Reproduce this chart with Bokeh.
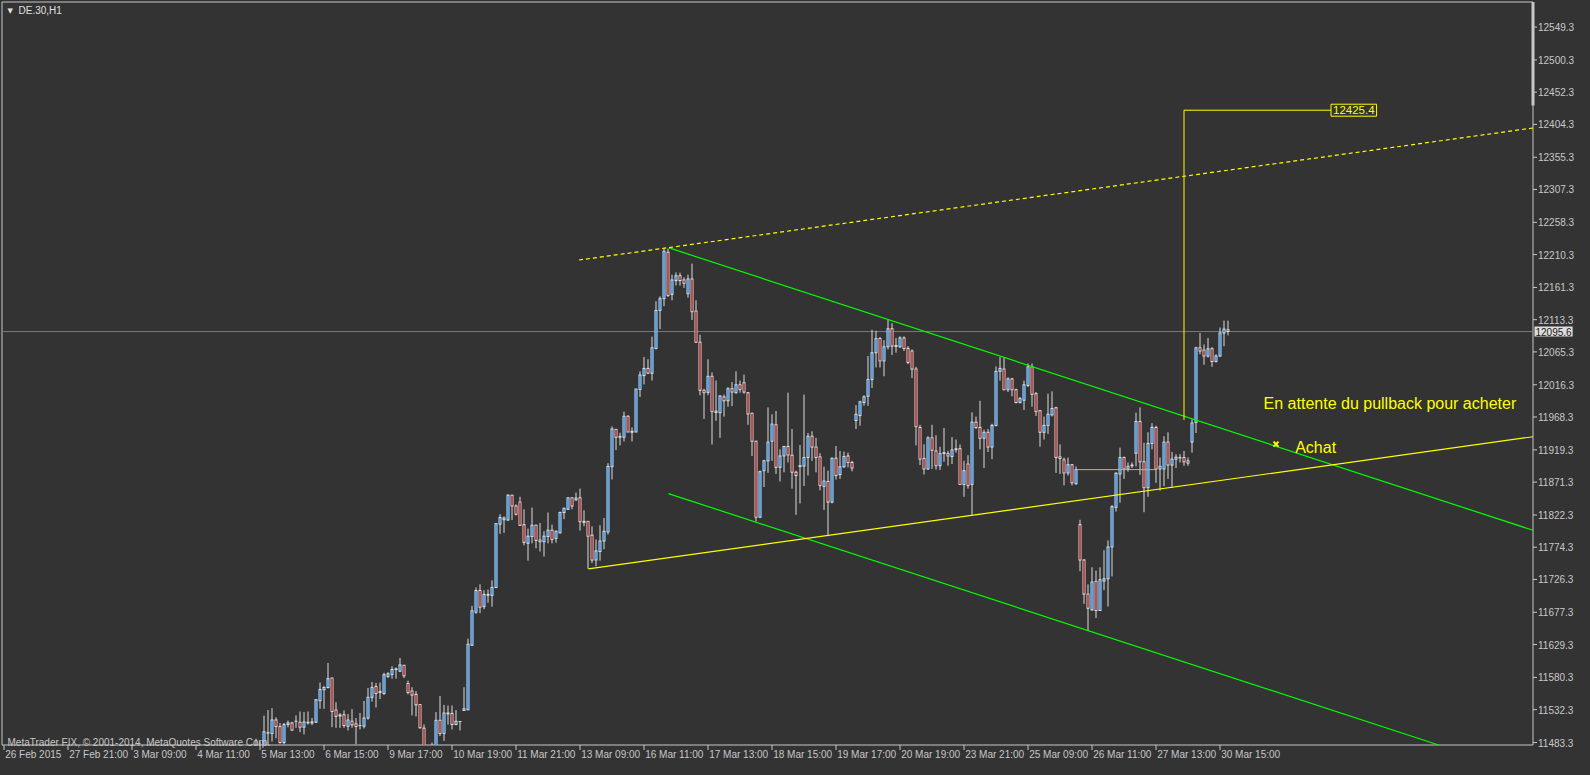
import numpy as np
from bokeh.plotting import figure
from bokeh.models import ColumnDataSource, Label, LabelSet, Range1d, GlobalInlineStyleSheet
from bokeh.core.properties import value
from bokeh.embed import file_html
from bokeh.resources import INLINE

# ---------------- data (DE.30, H1) ----------------
first_bar = 63  # bar index of first listed candle (bars counted from 26 Feb 2015 20:00)

opens = [11462.0, 11468.0, 11472.0, 11497.4, 11496.9, 11516.9, 11507.2, 11483.2, 11510.1, 11512.5,
         11515.0, 11513.5, 11506.2, 11512.5, 11512.5, 11513.5, 11545.7, 11562.0, 11565.2, 11579.4,
         11531.6, 11524.3, 11524.7, 11507.6, 11515.0, 11511.1, 11508.6, 11507.6, 11519.8, 11550.6,
         11566.7, 11557.9, 11556.4, 11581.8, 11584.8, 11592.0, 11589.6, 11598.4, 11571.1, 11559.9,
         11555.0, 11539.8, 11504.7, 11472.0, 11466.0, 11470.0, 11516.4, 11496.9, 11526.0, 11526.7,
         11510.1, 11514.5, 11531.1, 11532.1, 11628.2, 11677.5, 11709.8, 11685.8, 11704.0, 11702.6,
         11714.2, 11808.8, 11815.2, 11814.7, 11851.8, 11835.7, 11841.5, 11807.9, 11780.1, 11790.3,
         11807.0, 11784.9, 11782.5, 11790.3, 11799.6, 11787.4, 11795.7, 11825.9, 11830.8, 11847.9,
         11845.0, 11847.9, 11812.8, 11812.8, 11792.3, 11755.2, 11767.9, 11783.5, 11797.1, 11894.3,
         11949.9, 11939.2, 11938.2, 11969.4, 11947.0, 11946.0, 12009.4, 12030.0, 12040.7, 12033.4,
         12070.5, 12127.1, 12144.6, 12213.9, 12151.0, 12171.5, 12178.8, 12172.5, 12152.0, 12173.9,
         12126.1, 12079.7, 12008.0, 12005.0, 12028.9, 11977.0, 11974.8, 11998.2, 11992.4, 12010.4,
         12004.5, 12016.3, 12019.2, 12004.5, 11973.8, 11932.3, 11819.1, 11888.4, 11903.0, 11932.3,
         11956.7, 11893.3, 11910.3, 11924.5, 11911.3, 11886.0, 11895.7, 11895.2, 11907.9, 11939.6,
         11923.5, 11908.9, 11864.9, 11872.3, 11841.5, 11906.9, 11882.5, 11894.2, 11910.3, 11900.6,
         11963.1, 11970.4, 11989.9, 11999.2, 12024.1, 12064.1, 12085.1, 12051.9, 12072.9, 12099.8,
         12074.9, 12072.9, 12086.1, 12070.5, 12066.6, 12039.7, 11952.8, 11906.5, 11890.9, 11937.2,
         11917.7, 11895.7, 11915.2, 11913.8, 11909.4, 11919.7, 11921.1, 11867.9, 11898.2, 11867.9,
         11960.6, 11952.8, 11936.7, 11945.5, 11923.5, 11955.8, 12036.3, 12039.7, 12009.0, 12025.1,
         12009.0, 11989.9, 11993.3, 12015.3, 12043.1, 12003.1, 11977.7, 11945.5, 11955.8, 11971.4,
         11982.1, 11908.9, 11904.5, 11885.0, 11897.2, 11868.9, 11807.9, 11755.2, 11704.4, 11681.0,
         11723.4, 11680.0, 11723.9, 11727.3, 11774.7, 11833.8, 11883.5, 11907.9, 11890.9, 11895.7,
         11914.3, 11961.6, 11901.6, 11863.0, 11928.9, 11952.8, 11890.9, 11890.9, 11930.9, 11896.7,
         11905.5, 11907.4, 11907.9, 11903.0, 11930.9, 11960.2, 12071.4, 12068.0, 12059.2, 12070.0,
         12051.0, 12059.2, 12093.4, 12098.3]

highs = [11489.1, 11484.2, 11523.2, 11531.6, 11534.5, 11520.8, 11512.5, 11512.5, 11516.0, 11514.0,
         11523.7, 11529.6, 11528.6, 11529.6, 11519.8, 11547.7, 11572.6, 11567.7, 11601.8, 11579.9,
         11543.3, 11527.2, 11531.1, 11525.7, 11533.0, 11519.8, 11527.2, 11545.2, 11564.7, 11573.5,
         11572.1, 11572.6, 11587.2, 11588.2, 11597.0, 11595.0, 11609.2, 11598.9, 11575.5, 11565.7,
         11559.9, 11540.3, 11510.1, 11478.0, 11483.2, 11528.6, 11552.5, 11539.4, 11538.4, 11538.4,
         11531.6, 11515.0, 11565.7, 11638.0, 11686.8, 11714.2, 11719.0, 11710.2, 11711.2, 11724.9,
         11810.3, 11823.5, 11820.1, 11853.3, 11852.3, 11838.1, 11849.4, 11830.8, 11802.0, 11833.3,
         11807.9, 11810.3, 11798.1, 11825.9, 11807.9, 11799.1, 11827.4, 11833.3, 11848.4, 11848.4,
         11855.7, 11861.6, 11829.3, 11812.8, 11805.4, 11785.9, 11807.0, 11817.6, 11899.6, 11954.3,
         11950.4, 11944.8, 11976.3, 11970.9, 11952.8, 12010.4, 12036.3, 12057.8, 12054.4, 12088.0,
         12140.8, 12148.1, 12220.3, 12219.3, 12180.3, 12183.7, 12183.2, 12176.4, 12180.3, 12196.9,
         12142.2, 12090.9, 12010.4, 12054.3, 12034.8, 12022.6, 12000.7, 12001.7, 12012.8, 12020.2,
         12036.3, 12022.6, 12031.4, 12005.5, 11974.8, 11932.3, 11888.4, 11904.5, 11982.6, 11972.3,
         11977.2, 11920.1, 11925.0, 12004.5, 11950.4, 11888.4, 11926.5, 12001.6, 11944.5, 11947.0,
         11937.2, 11914.3, 11894.2, 11888.4, 11907.9, 11925.0, 11917.7, 11916.7, 11915.2, 11903.0,
         11986.0, 11992.4, 12000.7, 12059.2, 12098.3, 12096.8, 12087.5, 12082.7, 12112.9, 12108.1,
         12086.1, 12088.5, 12088.5, 12073.9, 12069.0, 12043.1, 11956.7, 11927.5, 11939.6, 11956.7,
         11941.1, 11924.0, 11951.9, 11917.7, 11938.2, 11934.8, 11927.5, 11903.0, 11911.3, 11975.3,
         11968.9, 11992.4, 11949.4, 11950.4, 11958.2, 12043.6, 12057.8, 12057.8, 12027.5, 12026.5,
         12010.4, 11998.2, 12022.6, 12048.0, 12048.0, 12005.5, 11978.7, 11968.9, 12003.1, 12006.5,
         11983.6, 11927.5, 11907.9, 11907.9, 11898.2, 11894.7, 11815.2, 11756.6, 11719.0, 11744.4,
         11739.5, 11744.4, 11769.8, 11784.4, 11837.2, 11886.0, 11922.6, 11909.4, 11900.6, 11900.6,
         11974.8, 11982.6, 11929.9, 11945.5, 11959.2, 11955.3, 11907.9, 11939.6, 11945.5, 11916.2,
         11912.8, 11912.8, 11917.7, 11907.9, 11965.0, 12072.9, 12093.4, 12076.3, 12086.1, 12072.4,
         12061.7, 12101.7, 12111.9, 12111.9]

lows = [11450.0, 11455.0, 11460.0, 11470.0, 11484.7, 11489.6, 11481.8, 11480.8, 11506.0, 11501.3,
        11505.2, 11498.9, 11495.4, 11510.1, 11509.1, 11512.5, 11533.5, 11533.5, 11563.8, 11506.2,
        11505.2, 11505.2, 11505.2, 11501.3, 11505.2, 11480.8, 11502.8, 11504.2, 11517.4, 11544.2,
        11535.5, 11548.1, 11554.0, 11579.4, 11578.4, 11578.4, 11588.2, 11579.4, 11555.0, 11523.7,
        11522.3, 11504.2, 11460.0, 11455.0, 11452.0, 11465.0, 11493.0, 11485.7, 11510.1, 11502.8,
        11509.1, 11501.3, 11530.6, 11531.6, 11627.2, 11675.1, 11676.1, 11681.9, 11691.6, 11685.8,
        11713.7, 11794.2, 11795.7, 11813.7, 11814.7, 11821.5, 11806.0, 11777.1, 11754.2, 11780.1,
        11772.7, 11767.9, 11760.5, 11780.1, 11780.1, 11781.0, 11794.7, 11816.2, 11829.8, 11830.8,
        11843.0, 11799.1, 11805.4, 11742.0, 11750.8, 11745.9, 11754.2, 11771.3, 11793.2, 11875.2,
        11919.2, 11926.0, 11931.9, 11945.5, 11931.9, 11945.5, 11998.2, 12016.8, 12033.0, 12022.6,
        12069.0, 12099.2, 12133.4, 12147.1, 12142.2, 12164.2, 12164.2, 12160.7, 12146.1, 12112.9,
        12078.7, 12000.7, 11965.5, 12000.7, 11927.4, 11962.6, 11937.2, 11968.9, 11983.6, 11984.5,
        12003.1, 12004.5, 12003.1, 11956.7, 11910.3, 11812.7, 11817.6, 11864.0, 11885.0, 11903.0,
        11883.5, 11872.3, 11885.9, 11900.6, 11861.5, 11822.5, 11839.6, 11865.4, 11881.1, 11903.0,
        11885.9, 11859.1, 11829.8, 11790.8, 11839.6, 11875.2, 11876.2, 11892.3, 11893.3, 11887.4,
        11950.4, 11955.3, 11985.0, 11985.0, 12011.4, 12042.2, 12042.2, 12029.0, 12069.0, 12060.7,
        12064.1, 12071.4, 12066.6, 12047.0, 12026.5, 11926.0, 11896.7, 11882.6, 11889.4, 11890.9,
        11889.9, 11889.4, 11901.6, 11895.7, 11898.2, 11915.2, 11867.4, 11849.4, 11861.6, 11822.5,
        11950.4, 11920.1, 11892.3, 11916.2, 11905.5, 11954.3, 12022.6, 12008.0, 12005.5, 11999.2,
        11988.5, 11988.5, 11978.7, 12012.9, 11983.6, 11969.9, 11924.0, 11934.8, 11943.1, 11969.0,
        11885.0, 11883.5, 11866.4, 11881.1, 11866.4, 11867.4, 11738.6, 11689.8, 11649.3, 11679.5,
        11668.8, 11680.0, 11710.3, 11685.9, 11730.7, 11827.4, 11840.6, 11876.2, 11886.9, 11892.3,
        11894.8, 11882.1, 11826.4, 11849.4, 11920.1, 11870.3, 11858.6, 11865.4, 11876.2, 11862.5,
        11892.3, 11900.6, 11895.7, 11895.7, 11915.2, 11944.5, 12061.7, 12046.1, 12056.8, 12043.1,
        12049.5, 12057.8, 12073.9, 12090.0]

closes = [11470.0, 11472.0, 11499.3, 11497.9, 11516.9, 11507.2, 11483.2, 11510.1, 11512.5, 11501.8,
          11515.0, 11506.2, 11514.0, 11513.5, 11514.0, 11547.2, 11562.3, 11565.2, 11578.4, 11529.6,
          11522.3, 11522.8, 11508.6, 11516.9, 11509.6, 11507.2, 11508.6, 11519.8, 11550.6, 11565.2,
          11556.4, 11559.4, 11584.3, 11585.7, 11592.1, 11593.0, 11598.9, 11582.8, 11557.9, 11554.0,
          11539.4, 11505.2, 11472.0, 11466.0, 11470.0, 11516.4, 11496.9, 11527.2, 11527.2, 11510.1,
          11515.0, 11514.5, 11533.5, 11629.7, 11679.5, 11709.8, 11685.0, 11704.0, 11702.6, 11714.2,
          11809.3, 11818.6, 11818.0, 11851.8, 11835.7, 11823.5, 11807.0, 11781.5, 11790.8, 11807.0,
          11784.4, 11782.5, 11790.8, 11799.6, 11785.9, 11798.1, 11825.9, 11832.3, 11847.9, 11835.7,
          11847.5, 11812.3, 11811.3, 11790.8, 11755.2, 11768.8, 11783.5, 11798.1, 11894.7, 11950.4,
          11938.2, 11938.2, 11969.4, 11946.0, 11945.5, 12009.9, 12030.9, 12040.7, 12033.4, 12071.4,
          12127.1, 12144.6, 12215.4, 12149.5, 12172.5, 12178.8, 12171.5, 12167.6, 12173.9, 12125.1,
          12079.7, 12008.0, 12004.6, 12028.9, 11976.3, 11975.0, 11999.7, 11992.4, 12010.4, 12005.5,
          12016.3, 12009.4, 12005.5, 11972.8, 11932.3, 11819.1, 11886.9, 11903.0, 11930.9, 11957.7,
          11893.3, 11910.3, 11924.5, 11911.8, 11886.0, 11881.1, 11894.5, 11907.9, 11939.6, 11923.5,
          11907.9, 11866.4, 11872.8, 11841.5, 11906.9, 11881.1, 11894.2, 11909.4, 11900.6, 11892.3,
          11972.4, 11990.9, 11998.2, 12024.1, 12064.1, 12085.1, 12051.9, 12072.9, 12099.8, 12073.9,
          12073.4, 12086.1, 12070.5, 12049.5, 12039.7, 11954.3, 11905.5, 11890.9, 11937.2, 11918.7,
          11895.7, 11913.8, 11914.0, 11910.3, 11919.2, 11920.9, 11867.9, 11888.4, 11866.4, 11960.6,
          11952.8, 11936.7, 11945.5, 11923.5, 11955.8, 12036.3, 12040.7, 12009.0, 12025.1, 12009.0,
          11989.9, 11995.8, 12016.3, 12043.1, 12002.1, 11976.3, 11945.5, 11955.8, 11972.4, 11981.1,
          11907.9, 11906.5, 11885.0, 11897.2, 11870.3, 11889.9, 11755.2, 11704.4, 11683.4, 11722.4,
          11680.0, 11725.9, 11727.3, 11774.7, 11834.7, 11884.5, 11907.9, 11890.9, 11894.8, 11896.7,
          11961.6, 11901.6, 11863.0, 11928.9, 11952.8, 11890.9, 11894.8, 11930.9, 11896.7, 11905.5,
          11908.4, 11907.9, 11901.6, 11899.6, 11959.2, 12071.4, 12066.6, 12059.2, 12070.0, 12051.0,
          12059.2, 12093.4, 12099.3, 12095.6]

# time-axis labels (every 16th H1 bar)
tick_bars = [0, 16, 32, 48, 64, 80, 96, 112, 128, 144, 160, 176, 192, 208, 224, 240, 256, 272, 288, 304]
tick_labels = ["26 Feb 2015", "27 Feb 21:00", "3 Mar 09:00", "4 Mar 11:00", "5 Mar 13:00",
               "6 Mar 15:00", "9 Mar 17:00", "10 Mar 19:00", "11 Mar 21:00", "13 Mar 09:00",
               "16 Mar 11:00", "17 Mar 13:00", "18 Mar 15:00", "19 Mar 17:00", "20 Mar 19:00",
               "23 Mar 21:00", "25 Mar 09:00", "26 Mar 11:00", "27 Mar 13:00", "30 Mar 15:00"]

# price scale labels
price_ticks = [11483.3, 11532.3, 11580.3, 11629.3, 11677.3, 11726.3, 11774.3, 11822.3, 11871.3,
               11919.3, 11968.3, 12016.3, 12065.3, 12113.3, 12161.3, 12210.3, 12258.3, 12307.3,
               12355.3, 12404.3, 12452.3, 12500.3, 12549.3]

bid_price = 12095.6

# drawn objects (bar index, price)
green_upper_x, green_upper_y = [166.3, 386.0], [12220.2, 11792.2]
green_lower_x, green_lower_y = [166.1, 386.0], [11854.2, 11426.4]
yellow_support_x, yellow_support_y = [146.1, 386.0], [11742.0, 11942.0]
yellow_dotted_x, yellow_dotted_y = [143.75, 386.0], [12202.2, 12402.0]
target_x, target_y = [295.0, 295.0, 331.75], [11964.0, 12425.4, 12425.4]
target_price = 12425.4
gap_x, gap_y = [268.2, 288.0], [11889.9, 11889.9]
buy_x, buy_y = [318.0], [11927.9]

# ---------------- layout / styling ----------------
BG = "#333333"
FG = "#C8C8C8"
WICK = "#DCDCDC"
BULL = "#1E90FF"
BEAR = "#B22222"
YEL = "#FFFF00"
GRN = "#00FF00"
FONT = "Liberation Sans"

W, H = 1574, 759
PX_PER_BAR = 4.0
PT_PER_PX = 1.48992
x_lo = -0.875
x_hi = x_lo + W / PX_PER_BAR
y_hi = 12588.85
y_lo = y_hi - H * PT_PER_PX


def X(px):  # canvas pixel -> bar index
    return x_lo + px / PX_PER_BAR


def Y(py):  # canvas pixel (from top) -> price
    return y_hi - py * PT_PER_PX


# chart frame (price scale on the right, time scale at the bottom)
fr_left, fr_top, fr_right, fr_bottom = X(1.5), Y(1.5), X(1532.5), Y(744.5)


def clip(xs, ys):
    """clip a straight segment to the chart frame"""
    x0, x1 = xs
    y0, y1 = ys
    t0, t1 = 0.0, 1.0
    dx, dy = x1 - x0, y1 - y0
    for pp, qq in ((-dx, x0 - fr_left), (dx, fr_right - x0), (-dy, y0 - fr_bottom), (dy, fr_top - y0)):
        if pp == 0:
            continue
        r = qq / pp
        if pp < 0:
            t0 = max(t0, r)
        else:
            t1 = min(t1, r)
    return [x0 + t0 * dx, x0 + t1 * dx], [y0 + t0 * dy, y0 + t1 * dy]


p = figure(width=W, height=H, x_range=Range1d(x_lo, x_hi), y_range=Range1d(y_lo, y_hi),
           x_axis_location=None, y_axis_location=None, output_backend="svg", toolbar_location=None,
           min_border=0, background_fill_color=BG, border_fill_color=BG, outline_line_color=None)
p.stylesheets = [GlobalInlineStyleSheet(css="html, body { background-color: #333333; }")]
p.xgrid.visible = False
p.ygrid.visible = False

# frame
p.line([fr_left, fr_left, fr_right, fr_right, fr_left],
       [fr_bottom, fr_top, fr_top, fr_bottom, fr_bottom], line_color=FG, line_width=1)
# chart-shift marker on the price scale
p.segment(x0=[fr_right], y0=[Y(105)], x1=[fr_right], y1=[fr_top], line_color=FG, line_width=3)

# price scale ticks and labels
p.segment(x0=[fr_right] * len(price_ticks), y0=price_ticks,
          x1=[X(1536.5)] * len(price_ticks), y1=price_ticks, line_color=FG, line_width=1)
ysrc = ColumnDataSource(dict(x=[X(1537.5)] * len(price_ticks), y=price_ticks,
                             text=[f"{v:.1f}" for v in price_ticks]))
p.add_layout(LabelSet(x="x", y="y", text="text", source=ysrc, text_align="left",
                      text_baseline="middle", text_color=FG, text_font=value(FONT),
                      text_font_size="10px"))

# time scale ticks and labels
p.segment(x0=tick_bars, y0=[fr_bottom] * len(tick_bars), x1=tick_bars,
          y1=[Y(749.5)] * len(tick_bars), line_color=FG, line_width=1)
xsrc = ColumnDataSource(dict(x=[b + 0.3 for b in tick_bars], y=[Y(748.5)] * len(tick_bars),
                             text=tick_labels))
p.add_layout(LabelSet(x="x", y="y", text="text", source=xsrc, text_align="left",
                      text_baseline="top", text_color=FG, text_font=value(FONT),
                      text_font_size="10px"))

# current bid line
p.line([fr_left, fr_right], [bid_price, bid_price], line_color="#7A7A7A", line_width=1)

# candles: wick, light 3px body frame, coloured core
o = np.array(opens); h = np.array(highs); l = np.array(lows); c = np.array(closes)
idx = np.arange(first_bar, first_bar + len(o))
hi_b, lo_b = np.maximum(o, c), np.minimum(o, c)
half = 0.5 * PT_PER_PX
wk = h > fr_bottom
p.segment(x0=idx[wk], y0=np.maximum(l, fr_bottom)[wk], x1=idx[wk], y1=h[wk],
          line_color=WICK, line_width=1)
ob = hi_b + half > fr_bottom
p.vbar(x=idx[ob], width=0.75, top=(hi_b + half)[ob],
       bottom=np.maximum(lo_b - half, fr_bottom)[ob], fill_color=WICK, line_color=None)
in_top, in_bot = hi_b - half, np.maximum(lo_b + half, fr_bottom)
ib = in_top > in_bot
cols = np.where(c >= o, BULL, BEAR)
p.vbar(x=idx[ib], width=0.375, top=in_top[ib], bottom=in_bot[ib], fill_color=list(cols[ib]),
       line_color=None)

# trend lines / channel
for xs, ys, col, kw in ((green_upper_x, green_upper_y, GRN, {}),
                        (green_lower_x, green_lower_y, GRN, {}),
                        (yellow_support_x, yellow_support_y, YEL, {}),
                        (yellow_dotted_x, yellow_dotted_y, YEL, {"line_dash": "4 3"})):
    cx, cy = clip(xs, ys)
    p.line(cx, cy, line_color=col, line_width=1.2, **kw)
p.line(gap_x, gap_y, line_color="#E8A070", line_width=1)
p.line(target_x, target_y, line_color=YEL, line_width=1)
p.scatter(buy_x, buy_y, marker="x", size=7, line_color=YEL, line_width=2)

# labels
p.add_layout(Label(x=target_x[-1], y=target_price, text=f"{target_price:.1f}", text_align="left",
                   text_baseline="middle", text_color=YEL, text_font=FONT, text_font_size="11.5px",
                   background_fill_color=BG, border_line_color=YEL, border_line_width=1, padding=2))
p.add_layout(Label(x=X(1534), y=bid_price, text=f"{bid_price:.1f}", text_align="left",
                   text_baseline="middle", text_color="#1A1A1A", text_font=FONT,
                   text_font_size="10px", background_fill_color="#DCDCDC", padding=1))
p.add_layout(Label(x=314.9, y=11988.4, text="En attente du pullback pour acheter",
                   text_align="left", text_baseline="alphabetic", text_color=YEL,
                   text_font=FONT, text_font_size="16px"))
p.add_layout(Label(x=322.8, y=11923.6, text="Achat", text_align="left", text_baseline="alphabetic",
                   text_color=YEL, text_font=FONT, text_font_size="16px"))
p.add_layout(Label(x=X(7), y=Y(741.5), text="MetaTrader FIX, \u00a9 2001-2014, MetaQuotes Software Corp.",
                   text_align="left", text_baseline="alphabetic", text_color=FG, text_font=FONT,
                   text_font_size="10px"))
p.add_layout(Label(x=X(7), y=Y(10), text="\u25bc", text_align="left", text_baseline="middle",
                   text_color="#E0E0E0", text_font="DejaVu Sans", text_font_size="7px"))
p.add_layout(Label(x=X(18), y=Y(10), text="DE.30,H1", text_align="left", text_baseline="middle",
                   text_color="#E0E0E0", text_font=FONT, text_font_size="10px"))

open("out.html", "w").write(file_html(p, INLINE))
